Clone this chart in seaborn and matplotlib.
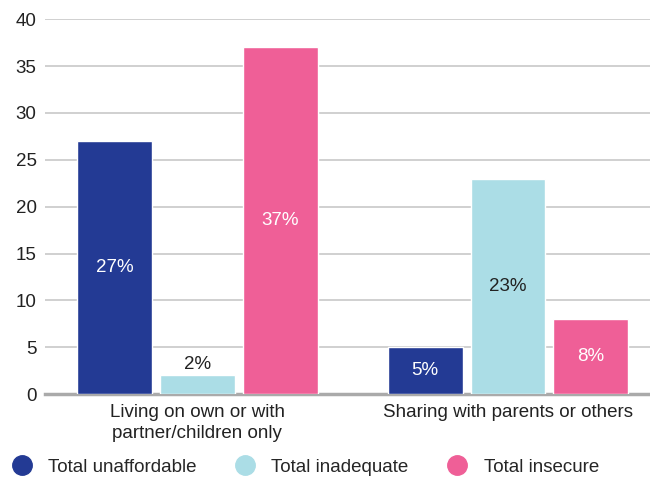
import numpy as np
import pandas as pd
import matplotlib.pyplot as plt
import seaborn as sns
from matplotlib.lines import Line2D

# --- Data ---
categories = ["Living on own or with\npartner/children only", "Sharing with parents or others"]
series = ["Total unaffordable", "Total inadequate", "Total insecure"]
unaffordable = [27, 5]
inadequate = [2, 23]
insecure = [37, 8]
colors = ["#233a94", "#abdde6", "#ef5f97"]
label_colors = ["white", "#222222", "white"]

rows = []
for name, vals in zip(series, [unaffordable, inadequate, insecure]):
    for cat, v in zip(categories, vals):
        rows.append({"Category": cat, "Series": name, "Value": v})
df = pd.DataFrame(rows)

sns.set_style("white")
plt.rcParams["font.family"] = ["Liberation Sans", "DejaVu Sans"]

fig = plt.figure(figsize=(6.5, 4.79), dpi=100)
ax = fig.add_axes([0.069, 0.177, 0.931, 0.783])

sns.barplot(data=df, x="Category", y="Value", hue="Series", order=categories,
            hue_order=series, palette=colors, width=0.8, gap=0.096,
            saturation=1, ax=ax, legend=False, zorder=3)

# bar labels
for cont, lc in zip(ax.containers, label_colors):
    for bar in cont:
        h = bar.get_height()
        x = bar.get_x() + bar.get_width() / 2
        if h < 4:
            ax.text(x, h + 0.3, f"{h:.0f}%", ha="center", va="bottom",
                    color="#222222", fontsize=13.5)
        else:
            ax.text(x, h / 2, f"{h:.0f}%", ha="center", va="center",
                    color=lc, fontsize=13.5)

ax.set_ylim(0, 40)
ax.set_yticks(np.arange(0, 41, 5))
ax.set_xlim(-0.491, 1.457)
ax.yaxis.grid(True, color="#c8c8c8", lw=1.2, zorder=0)
ax.set_axisbelow(True)
for s in ["top", "right", "left"]:
    ax.spines[s].set_visible(False)
ax.spines["bottom"].set_color("#aaaaaa")
ax.spines["bottom"].set_linewidth(2.5)
ax.set_xlabel("")
ax.set_ylabel("")
ax.tick_params(axis="y", length=0, labelsize=13.5, pad=6, colors="#222222")
ax.tick_params(axis="x", length=0, labelsize=13.5, pad=7, colors="#222222")
for lab in ax.get_xticklabels():
    lab.set_linespacing(1.3)

handles = [Line2D([], [], marker="o", ls="", markersize=14, markerfacecolor=c,
                  markeredgecolor=c) for c in colors]
fig.legend(handles, series, loc="center left", bbox_to_anchor=(-0.007, 0.025),
           ncol=3, frameon=False, fontsize=13.5, handletextpad=0.4,
           columnspacing=1.6, borderaxespad=0)

fig.savefig("out.png", dpi=100)
